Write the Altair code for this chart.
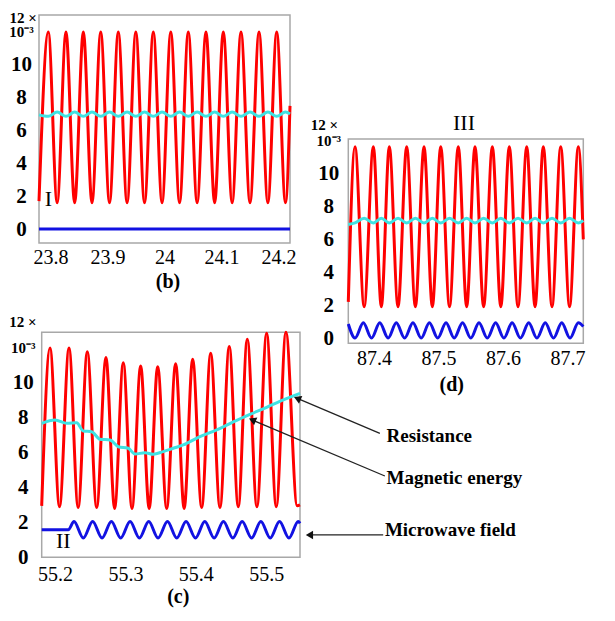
import altair as alt
import pandas as pd

FONT = "Times New Roman, Liberation Serif, serif"
RED, CYAN, BLUE = "#ff0000", "#3fe3e3", "#1212e2"
W, H = 595, 600

# ---------------- panel (b) : time vs value (x1e-3) ----------------
b_t = [23.7800, 23.7963, 23.8118, 23.8273, 23.8425, 23.8577, 23.8729, 23.8882,
       23.9036, 23.9190, 23.9344, 23.9497, 23.9650, 23.9804, 23.9957, 24.0110,
       24.0264, 24.0417, 24.0572, 24.0727, 24.0879, 24.1031, 24.1186, 24.1341,
       24.1499, 24.1657, 24.1812, 24.1967, 24.2121, 24.2200]
b_red = [1.7, 12.0, 1.6, 12.0, 1.6, 12.0, 1.6, 12.0, 1.6, 12.0, 1.6, 12.0, 1.6, 12.0, 1.6,
         12.0, 1.6, 12.0, 1.6, 12.0, 1.6, 12.0, 1.6, 12.0, 1.6, 12.0, 1.6, 12.0, 1.6, 7.5]
b_cyan = [6.95, 6.86, 7.12, 6.86, 7.12, 6.86, 7.12, 6.86, 7.12, 6.86, 7.12, 6.86, 7.12, 6.86, 7.12,
          6.86, 7.12, 6.86, 7.12, 6.86, 7.12, 6.86, 7.12, 6.86, 7.12, 6.86, 7.12, 6.86, 7.12, 7.0]
b_blue_t = [23.78, 24.22]
b_blue = [0.0, 0.0]

# ---------------- panel (d) ----------------
d_t = [87.3602, 87.3706, 87.3848, 87.3990, 87.4114, 87.4238, 87.4373, 87.4507, 87.4642,
       87.4776, 87.4905, 87.5035, 87.5171, 87.5307, 87.5437, 87.5566, 87.5700, 87.5835,
       87.5966, 87.6098, 87.6233, 87.6368, 87.6497, 87.6625, 87.6760, 87.6895, 87.7032,
       87.7168, 87.7245]
d_red = [2.2, 11.63, 1.9, 11.63, 1.9, 11.63, 1.9, 11.63, 1.9, 11.63, 1.9, 11.63, 1.9, 11.63,
         1.9, 11.63, 1.9, 11.63, 1.9, 11.63, 1.9, 11.63, 1.9, 11.63, 1.9, 11.63, 1.9, 11.63, 6.0]
d_cyan = [6.9, 7.0, 7.28, 7.0, 7.28, 7.0, 7.28, 7.0, 7.28, 7.0, 7.28, 7.0, 7.28, 7.0,
          7.28, 7.0, 7.28, 7.0, 7.28, 7.0, 7.28, 7.0, 7.28, 7.0, 7.28, 7.0, 7.28, 7.0, 7.15]
d_blue_t = [87.3602, 87.3706, 87.3835, 87.3962, 87.4090, 87.4219, 87.4346, 87.4475, 87.4604,
            87.4732, 87.4859, 87.4988, 87.5117, 87.5244, 87.5373, 87.5501, 87.5628, 87.5757,
            87.5886, 87.6014, 87.6142, 87.6270, 87.6399, 87.6526, 87.6655, 87.6783, 87.6911,
            87.7039, 87.7168, 87.7245]
d_blue = [0.85, 0.0, 0.93, 0.0, 0.93, 0.0, 0.93, 0.0, 0.93, 0.0, 0.93, 0.0, 0.93, 0.0, 0.93,
          0.0, 0.93, 0.0, 0.93, 0.0, 0.93, 0.0, 0.93, 0.0, 0.93, 0.0, 0.93, 0.0, 0.93, 0.7]

# ---------------- panel (c) ----------------
c_t = [55.1810, 55.1928, 55.2063, 55.2198, 55.2328, 55.2458, 55.2591, 55.2723, 55.2846,
       55.2969, 55.3093, 55.3216, 55.3337, 55.3458, 55.3586, 55.3713, 55.3834, 55.3955,
       55.4083, 55.4211, 55.4343, 55.4475, 55.4603, 55.4731, 55.4868, 55.5006, 55.5143,
       55.5280, 55.5440, 55.5480]
c_red = [2.95, 12.0, 2.9, 12.0, 2.85, 11.79, 2.85, 11.45, 2.8, 11.15, 2.8, 10.97, 2.8, 10.93,
         2.8, 11.1, 2.8, 11.35, 2.85, 11.7, 2.85, 12.08, 2.9, 12.5, 2.9, 12.84, 2.9, 12.9, 2.95, 3.0]
c_cyan_t = [55.1810, 55.1999, 55.2165, 55.2307, 55.2401, 55.2520, 55.2638, 55.2780, 55.2898,
            55.3040, 55.3135, 55.3277, 55.3395, 55.3537, 55.3679, 55.3821, 55.4058, 55.4296,
            55.4532, 55.4769, 55.5006, 55.5242, 55.5480]
c_cyan = [7.68, 7.87, 7.68, 7.72, 7.24, 7.20, 6.77, 6.73, 6.34, 6.25, 5.92, 6.00, 5.91, 6.06,
          6.25, 6.44, 6.92, 7.30, 7.76, 8.19, 8.60, 9.03, 9.40]
c_blue_t = [55.1810, 55.2188, 55.2269, 55.2401, 55.2534, 55.2667, 55.2800, 55.2932, 55.3066,
            55.3198, 55.3331, 55.3463, 55.3597, 55.3729, 55.3861, 55.3995, 55.4127, 55.4260,
            55.4392, 55.4526, 55.4658, 55.4792, 55.4924, 55.5057, 55.5189, 55.5323, 55.5455,
            55.5480]
c_blue = [1.58, 1.58, 2.05, 1.1, 2.05, 1.1, 2.05, 1.1, 2.05, 1.1, 2.05, 1.1, 2.05, 1.1,
          2.05, 1.1, 2.05, 1.1, 2.05, 1.1, 2.05, 1.1, 2.05, 1.1, 2.05, 1.1, 2.05, 1.95]

# annotations (in panel (c) coordinates)
ann_labels = ["Resistance", "Magnetic energy", "Microwave field"]
ann_text_t = [55.6710, 55.6710, 55.6686]
ann_text_v = [6.94, 4.53, 1.57]
ann_tail_t = [55.6615, 55.6686, 55.6662]
ann_tail_v = [7.11, 4.66, 1.28]
ann_head_t = [55.5442, 55.4803, 55.5614]
ann_head_v = [9.11, 7.87, 1.28]
ann_angle = [202.9, 202.9, 180.0]

x_ticks_b = [23.8, 23.9, 24.0, 24.1, 24.2]
x_ticks_d = [87.4, 87.5, 87.6, 87.7]
x_ticks_c = [55.2, 55.3, 55.4, 55.5]
y_ticks = [0, 2, 4, 6, 8, 10, 12]


def x_axis(values, offset, pad):
    return alt.Axis(orient="bottom", offset=offset, values=values, format="~g", title=None,
                    grid=False, ticks=False, domain=False, labelFont=FONT, labelFontSize=20,
                    labelColor="black", labelPadding=pad, labelFlush=False, labelOverlap=False)


def y_axis(offset, pad, tx, ty):
    return alt.Axis(orient="left", offset=offset, values=y_ticks, title="12 \u00d7",
                    titleAngle=0, titleX=tx, titleY=ty, titleAlign="left", titleBaseline="middle",
                    titleFont=FONT, titleFontSize=15, titleFontWeight="bold", titleColor="black",
                    grid=False, ticks=False, domain=False, labelFont=FONT, labelColor="black",
                    labelFontWeight="bold", labelAlign="center", labelPadding=pad,
                    labelFontSize={"condition": {"test": "datum.value == 12", "value": 15}, "value": 21},
                    labelExpr="datum.value == 12 ? '10\u207b\u00b3' : datum.label",
                    labelFlush=False, labelOverlap=False)


def series(t, v, color, xs, ys, xax=None, yax=None):
    df = pd.DataFrame({"t": t, "v": v})
    return alt.Chart(df).mark_line(color=color, strokeWidth=3, interpolate="monotone").encode(
        x=alt.X("t:Q", scale=xs, axis=xax), y=alt.Y("v:Q", scale=ys, axis=yax))


def frame(xd, yd, xs, ys):
    df = pd.DataFrame({"x0": [xd[0]], "x1": [xd[1]], "y0": [yd[0]], "y1": [yd[1]]})
    return alt.Chart(df).mark_rect(fillOpacity=0, stroke="#a8a8a8", strokeWidth=1.5).encode(
        x=alt.X("x0:Q", scale=xs, axis=None), x2="x1:Q",
        y=alt.Y("y0:Q", scale=ys, axis=None), y2="y1:Q")


def label(texts, t, v, xs, ys, size, weight="normal", align="center"):
    df = pd.DataFrame({"t": t, "v": v, "s": texts})
    return alt.Chart(df).mark_text(font=FONT, fontSize=size, fontWeight=weight, align=align,
                                   baseline="middle", color="black").encode(
        x=alt.X("t:Q", scale=xs, axis=None), y=alt.Y("v:Q", scale=ys, axis=None), text="s:N")


# ---- panel (b)
xd_b, yd_b = [23.78, 24.22], [-0.85, 13.03]
xs_b = alt.Scale(domain=xd_b, range=[31, 282], nice=False, zero=False)
ys_b = alt.Scale(domain=yd_b, range=[235, 7], nice=False, zero=False)
panel_b = [
    frame(xd_b, yd_b, xs_b, ys_b),
    series(b_blue_t, b_blue, BLUE, xs_b, ys_b, x_axis(x_ticks_b, 235 - H, 4), y_axis(-31, 18, -30, 9)),
    series(b_t, b_red, RED, xs_b, ys_b),
    series(b_t, b_cyan, CYAN, xs_b, ys_b),
    label(["I"], [23.7963], [1.81], xs_b, ys_b, 22),
    label(["(b)"], [24.0061], [-3.25], xs_b, ys_b, 20, "bold"),
]

# ---- panel (d)
xd_d, yd_d = [87.3602, 87.7245], [-0.32, 12.1]
xs_d = alt.Scale(domain=xd_d, range=[340.3, 575.3], nice=False, zero=False)
ys_d = alt.Scale(domain=yd_d, range=[335.3, 131], nice=False, zero=False)
panel_d = [
    frame(xd_d, yd_d, xs_d, ys_d),
    series(d_blue_t, d_blue, BLUE, xs_d, ys_d, x_axis(x_ticks_d, 335.3 - H, 5), y_axis(-340.3, 20, -38, 116)),
    series(d_t, d_red, RED, xs_d, ys_d),
    series(d_t, d_cyan, CYAN, xs_d, ys_d),
    label(["III"], [87.5396], [13.08], xs_d, ys_d, 22),
    label(["(d)"], [87.5205], [-2.85], xs_d, ys_d, 20, "bold"),
]

# ---- panel (c)
xd_c, yd_c = [55.181, 55.548], [0.0, 12.9]
xs_c = alt.Scale(domain=xd_c, range=[33.7, 292], nice=False, zero=False)
ys_c = alt.Scale(domain=yd_c, range=[549.3, 324.3], nice=False, zero=False)
arrows = pd.DataFrame({"t": ann_tail_t, "v": ann_tail_v, "t2": ann_head_t, "v2": ann_head_v,
                       "a": ann_angle})
arrow_lines = alt.Chart(arrows).mark_rule(color="#222222", strokeWidth=1.3).encode(
    x=alt.X("t:Q", scale=xs_c, axis=None), y=alt.Y("v:Q", scale=ys_c, axis=None),
    x2="t2:Q", y2="v2:Q")
arrow_heads = alt.Chart(arrows).mark_point(shape="triangle-right", filled=True, size=70,
                                           color="#111111", opacity=1).encode(
    x=alt.X("t2:Q", scale=xs_c, axis=None), y=alt.Y("v2:Q", scale=ys_c, axis=None),
    angle=alt.Angle("a:Q", scale=None))
panel_c = [
    frame(xd_c, yd_c, xs_c, ys_c),
    series(c_blue_t, c_blue, BLUE, xs_c, ys_c, x_axis(x_ticks_c, 549.3 - H, 7), y_axis(-33.7, 19, -33, 313.7)),
    series(c_t, c_red, RED, xs_c, ys_c),
    series(c_cyan_t, c_cyan, CYAN, xs_c, ys_c),
    label(["II"], [55.2117], [0.95], xs_c, ys_c, 22),
    label(["(c)"], [55.3750], [-2.28], xs_c, ys_c, 20, "bold"),
    arrow_lines,
    arrow_heads,
    label(ann_labels, ann_text_t, ann_text_v, xs_c, ys_c, 19, "bold", "left"),
]

chart = alt.layer(*panel_b, *panel_d, *panel_c).resolve_scale(
    x="independent", y="independent"
).properties(
    width=W, height=H, padding=0, autosize=alt.AutoSizeParams(type="none")
).configure_view(stroke=None)

chart.save("out.html", embed_options={"renderer": "svg", "actions": False})
